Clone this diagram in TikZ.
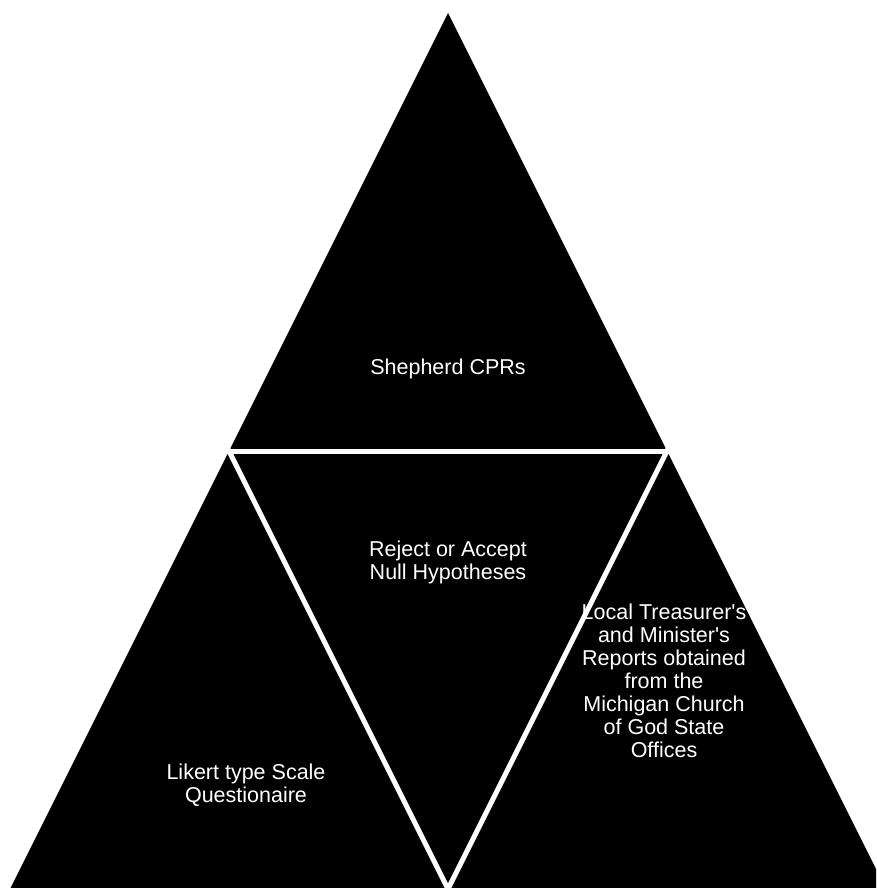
\documentclass[tikz,border=0pt]{standalone}
\usepackage{fontspec}
\setmainfont{Liberation Sans}[Ligatures=TeXOff]
\begin{document}
\begin{tikzpicture}[x=1pt,y=-1pt,
  seg/.style={fill=black,draw=none},
  gap/.style={draw=white,line width=5pt,line cap=rect},
  lbl/.style={text=white,align=center,font=\fontsize{21.5}{23}\selectfont,inner sep=0pt}]
\useasboundingbox (0,0) rectangle (876,888);
\clip (0,0) rectangle (876,888);
\coordinate (apex) at (448,13);
\coordinate (bl) at (10,889);
\coordinate (br) at (886,889);
\coordinate (ml) at (229,451);
\coordinate (mr) at (667,451);
\coordinate (mb) at (448,889);
\fill[seg] (apex) -- (bl) -- (br) -- cycle;
\draw[gap] (ml) -- (mr);
\draw[gap] (ml) -- (mb);
\draw[gap] (mr) -- (mb);
\node[lbl] (top) at (448,369) {Shepherd CPRs};
\node[lbl] (mid) at (448,562) {Reject or Accept\\Null Hypotheses};
\node[lbl] (left) at (246,785) {Likert type Scale\\Questionaire};
\node[lbl] (right) at (664,681) {Local Treasurer's\\and Minister's\\Reports obtained\\from the\\Michigan Church\\of God State\\Offices};
\end{tikzpicture}
\end{document}
